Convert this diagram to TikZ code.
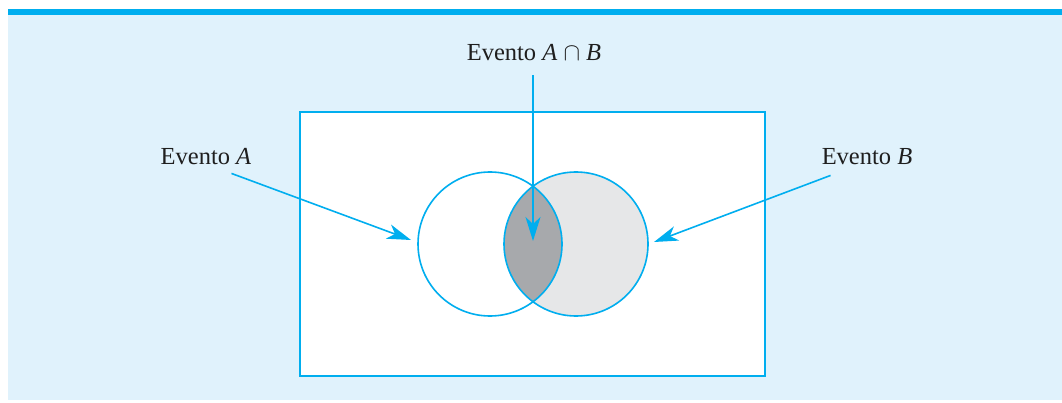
\documentclass[tikz,border=0pt]{standalone}
\usepackage{fontspec}
\setmainfont{Liberation Serif}
\usetikzlibrary{arrows.meta}
\definecolor{vennblue}{RGB}{0,174,239}
\definecolor{panelblue}{RGB}{224,242,252}
\definecolor{lightgr}{RGB}{230,231,232}
\definecolor{darkgr}{RGB}{167,169,172}

\begin{document}
\begin{tikzpicture}[
      x=1pt,y=-1pt,
      edge/.style={draw=vennblue, line width=1.6pt},
      pointer/.style={draw=vennblue, line width=1.6pt, -{Stealth[length=24pt,width=15pt,inset=7pt]}},
      label/.style={font=\fontsize{24.5}{28}\selectfont, text=black!88, inner sep=0pt, anchor=base}
    ]
      \useasboundingbox (0,0) rectangle (1062,403);
      \fill[panelblue] (8,15) rectangle (1062,400);
      \fill[vennblue] (8,9) rectangle (1062,15);
      \draw[edge, fill=white] (300,112) rectangle (765,376);
      % shaded events
      \fill[lightgr] (576,244) circle (72pt);
      \begin{scope}\clip (490,244) circle (72pt); \fill[darkgr] (576,244) circle (72pt);\end{scope}
      \node[circle, edge, minimum size=144pt, inner sep=0pt] (evA) at (490,244) {};
      \node[circle, edge, minimum size=144pt, inner sep=0pt] (evB) at (576,244) {};
      \node[label] (lblA) at (206,165) {Evento \textit{A}};
      \node[label] (lblB) at (867,165) {Evento \textit{B}};
      \node[label] (lblAB) at (534,61) {Evento \textit{A} $\cap$ \textit{B}};
      \coordinate (tipA) at (411,240);
      \coordinate (tipB) at (654,242);
      \coordinate (tipAB) at (533,241);
      \draw[pointer] ([shift={(-20,8)}]lblA.south east) -- (tipA);
      \draw[pointer] ([shift={(9,10)}]lblB.south west) -- (tipB);
      \draw[pointer] ([shift={(-1,14)}]lblAB.south) -- (tipAB);
    \end{tikzpicture}
\end{document}
